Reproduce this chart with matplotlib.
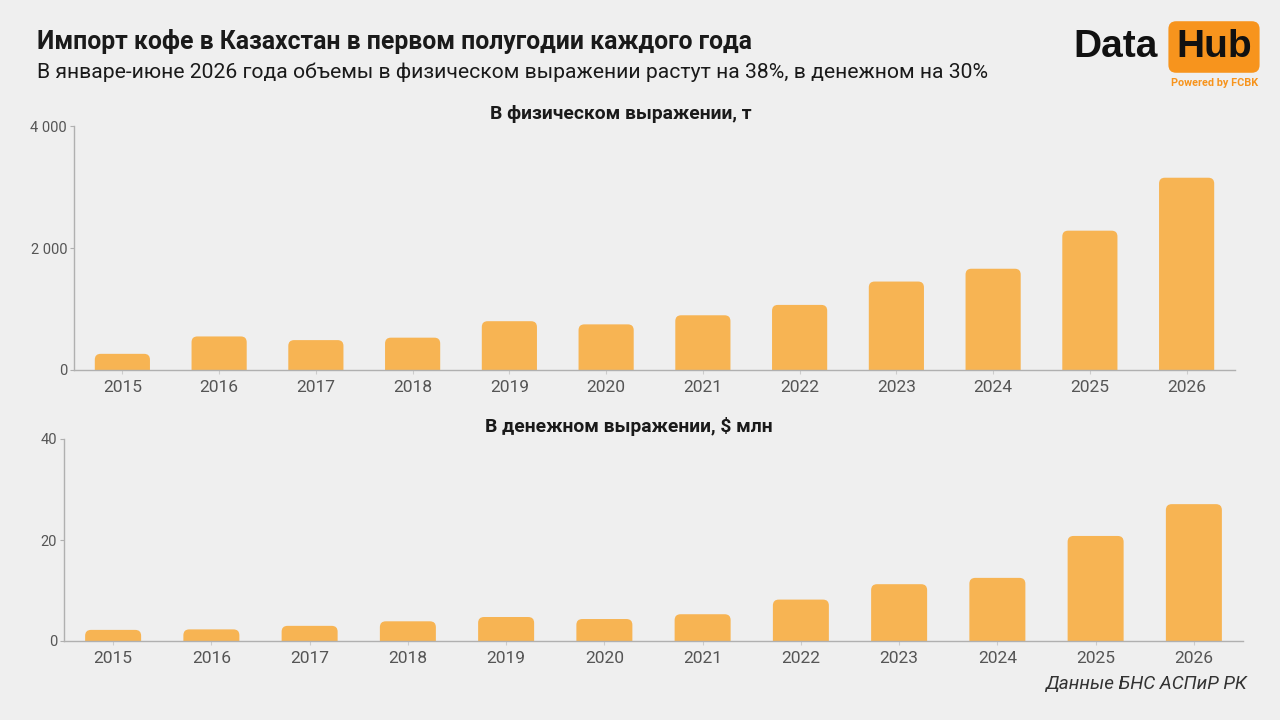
import matplotlib.pyplot as plt
from matplotlib.patches import FancyBboxPatch
from matplotlib.ticker import FuncFormatter

years = ['2015', '2016', '2017', '2018', '2019', '2020',
         '2021', '2022', '2023', '2024', '2025', '2026']
tonnes = [265, 550, 490, 530, 800, 748, 897, 1067, 1450, 1660, 2284, 3152]
usd_mln = [2.2, 2.3, 3.0, 3.9, 4.75, 4.35, 5.3, 8.2, 11.25, 12.5, 20.8, 27.1]

BG = '#efefef'
BAR = '#f7b453'
GREY = '#555555'

plt.rcParams['font.family'] = ['Roboto', 'DejaVu Sans']

fig = plt.figure(figsize=(12.8, 7.2), dpi=100, facecolor=BG)


def draw_panel(rect, values, ymax, yticks, title, title_x):
    ax = fig.add_axes(rect, facecolor=BG)
    x = range(len(years))
    bars = ax.bar(x, values, width=0.57, color=BAR)
    ax.set_xlim(-0.5, len(years) - 0.5)
    ax.set_ylim(0, ymax)
    # swap plain bars for rounded-top ones (bottom end hidden under the axis)
    fig.canvas.draw()
    bb = ax.get_window_extent()
    aspect = (ymax / bb.height) / (len(years) / bb.width)
    r = 0.06
    for b in bars:
        bx, bw, bh = b.get_x(), b.get_width(), b.get_height()
        p = FancyBboxPatch((bx, -r * aspect), bw, bh + r * aspect,
                           boxstyle='round,pad=0,rounding_size=%f' % r,
                           mutation_aspect=aspect, fc=BAR, ec='none')
        ax.add_patch(p)
        b.remove()
    ax.set_xticks(list(x))
    ax.set_xticklabels(years)
    ax.set_yticks(yticks)
    ax.yaxis.set_major_formatter(FuncFormatter(lambda v, p: f'{int(v):,}'.replace(',', ' ')))
    for s in ['top', 'right']:
        ax.spines[s].set_visible(False)
    for s in ['left', 'bottom']:
        ax.spines[s].set_color('#b0b0b0')
        ax.spines[s].set_linewidth(1)
    ax.tick_params(axis='x', length=3, color='#cccccc', labelsize=12.5, labelcolor=GREY, pad=4)
    ax.tick_params(axis='y', length=3, color='#b0b0b0', labelsize=10.5, labelcolor=GREY, pad=2)
    ax.set_title(title, fontsize=13.9, fontweight='bold', color='#1a1a1a', pad=5, x=title_x)
    return ax


draw_panel([74 / 1280, 1 - 370 / 720, (1235 - 74) / 1280, 244 / 720],
           tonnes, 4000, [0, 2000, 4000], 'В физическом выражении, т', 0.471)
draw_panel([64 / 1280, 1 - 641 / 720, (1243 - 64) / 1280, 202 / 720],
           usd_mln, 40, [0, 20, 40], 'В денежном выражении, $ млн', 0.479)

fig.text(37 / 1280, 1 - 42 / 720, 'Импорт кофе в Казахстан в первом полугодии каждого года',
         fontsize=17.8, fontweight='bold', color='#1a1a1a', va='center')
fig.text(37 / 1280, 1 - 72 / 720,
         'В январе-июне 2026 года объемы в физическом выражении растут на 38%, в денежном на 30%',
         fontsize=15.2, color='#1a1a1a', va='center')
fig.text(1247 / 1280, 1 - 684 / 720, 'Данные БНС АСПиР РК', fontsize=13.6, style='italic',
         color='#333333', ha='right', va='center')

# logo
fig.text(1158 / 1280, 1 - 47 / 720, 'Data', fontsize=28, fontweight='bold', color='#111111',
         ha='right', va='center', family=['Liberation Sans', 'DejaVu Sans'])
fig.text(1214 / 1280, 1 - 47 / 720, 'Hub', fontsize=28, fontweight='bold', color='#111111',
         ha='center', va='center', family=['Liberation Sans', 'DejaVu Sans'],
         bbox=dict(boxstyle='round,pad=0.2,rounding_size=0.2', fc='#f7941d', ec='none'))
fig.text(1215 / 1280, 1 - 83 / 720, 'Powered by FCBK', fontsize=7.8, fontweight='bold',
         color='#f7941d', ha='center', va='center')

fig.savefig('out.png', dpi=100, facecolor=BG)
